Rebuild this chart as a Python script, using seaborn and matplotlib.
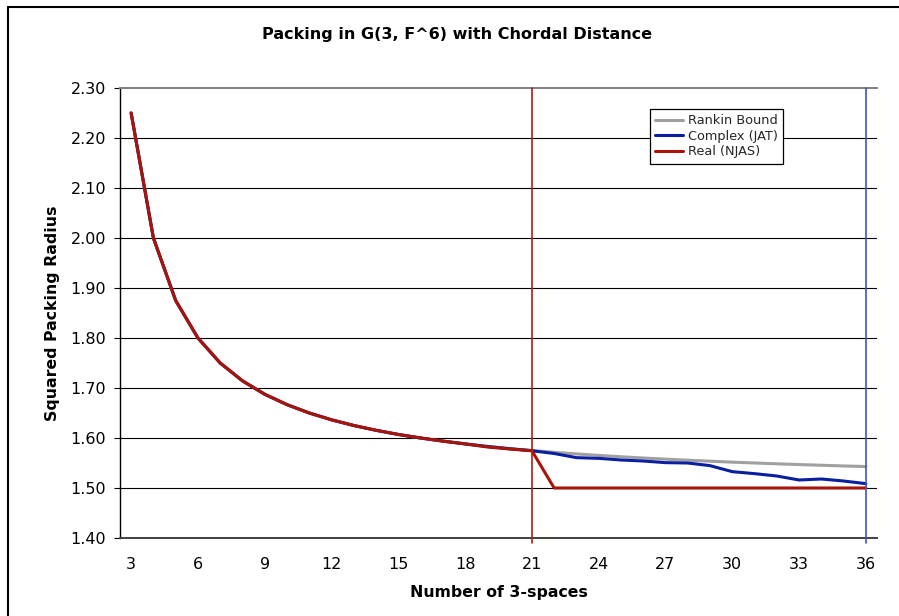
import numpy as np
import pandas as pd
import matplotlib
matplotlib.use("Agg")
import matplotlib.pyplot as plt
import seaborn as sns
from matplotlib.lines import Line2D

# ---- data ----
n_spaces = list(range(3, 37))
rankin = [2.2500, 2.0000, 1.8750, 1.8000, 1.7500, 1.7143, 1.6875, 1.6667, 1.6500,
          1.6364, 1.6250, 1.6154, 1.6071, 1.6000, 1.5938, 1.5882, 1.5833, 1.5789,
          1.5750, 1.5714, 1.5682, 1.5652, 1.5625, 1.5600, 1.5577, 1.5556, 1.5536,
          1.5517, 1.5500, 1.5484, 1.5469, 1.5455, 1.5441, 1.5429]
complex_jat = [2.2500, 2.0000, 1.8750, 1.8000, 1.7500, 1.7143, 1.6875, 1.6667, 1.6500,
               1.6364, 1.6250, 1.6154, 1.6071, 1.6000, 1.5938, 1.5882, 1.5830, 1.5785,
               1.5745, 1.5690, 1.5607, 1.5593, 1.5560, 1.5540, 1.5507, 1.5500, 1.5447,
               1.5327, 1.5287, 1.5240, 1.5160, 1.5180, 1.5140, 1.5087]
real_njas = [2.2500, 2.0000, 1.8750, 1.8000, 1.7500, 1.7143, 1.6875, 1.6667, 1.6500,
             1.6364, 1.6250, 1.6154, 1.6071, 1.6000, 1.5938, 1.5882, 1.5820, 1.5780,
             1.5745, 1.5000, 1.5000, 1.5000, 1.5000, 1.5000, 1.5000, 1.5000, 1.5000,
             1.5000, 1.5000, 1.5000, 1.5000, 1.5000, 1.5000, 1.5000]
series_names = ["Rankin Bound", "Complex (JAT)", "Real (NJAS)"]
series_colors = ["#A0A0A0", "#0A1EA0", "#A8140A"]
x_ticks = [3, 6, 9, 12, 15, 18, 21, 24, 27, 30, 33, 36]
y_ticks = [1.40, 1.50, 1.60, 1.70, 1.80, 1.90, 2.00, 2.10, 2.20, 2.30]
marker_lines = [(21, "#B01E10"), (36, "#4055C0")]

df = pd.concat([
    pd.DataFrame({"N": n_spaces, "value": vals, "series": name})
    for name, vals in zip(series_names, [rankin, complex_jat, real_njas])
], ignore_index=True)

sns.set_theme(style="white")
plt.rcParams["font.family"] = ["DejaVu Sans"]

W, H = 899, 616
fig = plt.figure(figsize=(W / 100, H / 100), dpi=100)
ax = fig.add_axes([120 / W, 1 - 538 / H, (877 - 120) / W, (538 - 88) / H])
ax.patch.set_edgecolor("none")
ax.patch.set_linewidth(0)

sns.lineplot(data=df, x="N", y="value", hue="series", hue_order=series_names,
             palette=series_colors, linewidth=2.2, ax=ax, legend=False, zorder=3)

ax.set_xlim(2.5, 36.5)
ax.set_ylim(1.40, 2.30)
ax.set_xticks(x_ticks)
ax.set_xticklabels([str(t) for t in x_ticks])
ax.set_yticks(y_ticks)
ax.set_yticklabels([f"{t:.2f}" for t in y_ticks])
for t in y_ticks[1:-1]:
    ax.axhline(t, color="black", lw=0.8, zorder=1)

for xv, c in marker_lines:
    ax.axvline(xv, ymin=-0.012, ymax=1, color=c, lw=1.2, clip_on=False, zorder=4)

ax.spines["right"].set_visible(False)
ax.spines["top"].set_color("#808080")
ax.spines["top"].set_linewidth(1.4)
ax.spines["left"].set_color("black")
ax.spines["left"].set_linewidth(1.0)
ax.spines["bottom"].set_color("#404040")
ax.spines["bottom"].set_linewidth(1.4)

ax.tick_params(axis="y", direction="out", length=4, width=0.8, color="black",
               pad=6, labelsize=11.5, labelcolor="black", left=True)
ax.tick_params(axis="x", length=0, pad=14, labelsize=11.5, labelcolor="black", bottom=True)
ax.set_xlabel("")
ax.set_ylabel("")

fig.text(499 / W, 1 - 593 / H, "Number of 3-spaces", ha="center", va="center",
         fontsize=11.3, fontweight="bold", color="black")
fig.text(53 / W, 1 - 313 / H, "Squared Packing Radius", ha="center", va="center",
         rotation=90, fontsize=11.3, fontweight="bold", color="black")
fig.text(457 / W, 1 - 34 / H, "Packing in G(3, F^6) with Chordal Distance", ha="center",
         va="center", fontsize=11.5, fontweight="bold", color="black")

handles = [Line2D([0], [0], color=c, lw=2.2) for c in series_colors]
leg = ax.legend(handles, series_names, loc="upper left",
                bbox_to_anchor=(650 / W, 1 - 109 / H), bbox_transform=fig.transFigure,
                fontsize=9.3, frameon=True, fancybox=False, framealpha=1,
                edgecolor="black", handlelength=2.1, handletextpad=0.4,
                borderpad=0.42, labelspacing=0.18, borderaxespad=0)
leg.get_frame().set_linewidth(0.9)
leg.set_zorder(10)

# outer chart frame (left and top edges visible)
fig.add_artist(Line2D([8 / W, 8 / W], [0, 1 - 7 / H], color="black", lw=1.5,
                      transform=fig.transFigure))
fig.add_artist(Line2D([8 / W, 1], [1 - 7 / H, 1 - 7 / H], color="black", lw=1.5,
                      transform=fig.transFigure))

fig.savefig("out.png", dpi=100)
